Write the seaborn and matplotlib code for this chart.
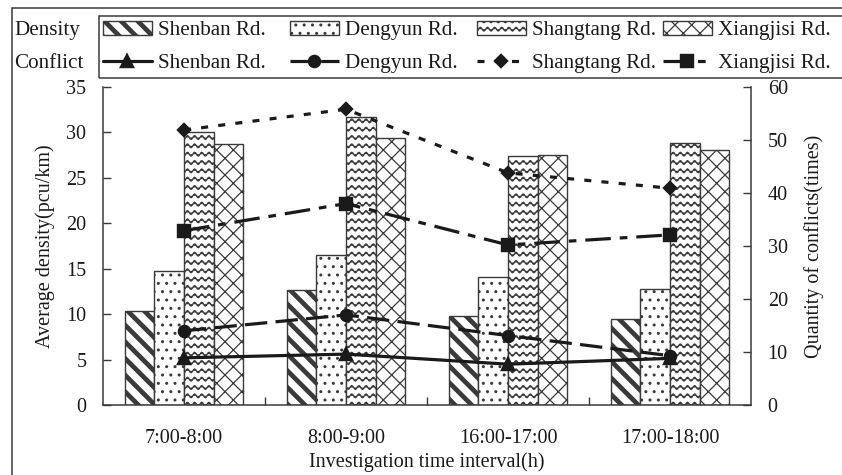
import numpy as np
import pandas as pd
import matplotlib
matplotlib.use("Agg")
import matplotlib.pyplot as plt
import seaborn as sns
from matplotlib import hatch as mhatch
from matplotlib.path import Path
from matplotlib.patches import Rectangle

# ---------------- data ----------------
intervals = ["7:00-8:00", "8:00-9:00", "16:00-17:00", "17:00-18:00"]
roads = ["Shenban Rd.", "Dengyun Rd.", "Shangtang Rd.", "Xiangjisi Rd."]

density_shenban = [10.3, 12.7, 9.8, 9.5]
density_dengyun = [14.7, 16.5, 14.1, 12.8]
density_shangtang = [30.0, 31.7, 27.4, 28.8]
density_xiangjisi = [28.7, 29.4, 27.5, 28.1]

conflict_shenban = [8.9, 9.6, 7.7, 8.8]
conflict_dengyun = [14.0, 17.0, 13.1, 9.3]
conflict_shangtang = [51.9, 55.8, 43.8, 40.9]
conflict_xiangjisi = [32.9, 38.0, 30.2, 32.1]

density_ticks = [0, 5, 10, 15, 20, 25, 30, 35]
conflict_ticks = [0, 10, 20, 30, 40, 50, 60]


# ---------------- custom wavy hatch ----------------
class WaveHatch(mhatch.HatchPatternBase):
    periods = 14
    pts_per_period = 8

    def __init__(self, hatch, density):
        self.num_lines = int(hatch.count("~") * density)
        self.npts = self.periods * self.pts_per_period + 1
        self.num_vertices = self.num_lines * self.npts

    def set_vertices_and_codes(self, vertices, codes):
        n = self.num_lines
        xs = np.linspace(0.0, 1.0, self.npts)
        amp = 0.22 / n
        idx = 0
        for i in range(n):
            y0 = (i + 0.5) / n
            ys = y0 + amp * np.sin(2 * np.pi * self.periods * xs)
            vertices[idx:idx + self.npts, 0] = xs
            vertices[idx:idx + self.npts, 1] = ys
            codes[idx] = Path.MOVETO
            codes[idx + 1:idx + self.npts] = Path.LINETO
            idx += self.npts


mhatch._hatch_types.append(WaveHatch)
mhatch._validate_hatch_pattern = lambda h: None

# ---------------- style ----------------
sns.set_theme(style="white")
plt.rcParams["font.family"] = ["Liberation Serif", "DejaVu Serif"]
plt.rcParams["hatch.linewidth"] = 1.0
FS = 14.5
LFS = 15.2
INK = "#1a1a1a"
EDGE = "#3a3a3a"
W, H = 842, 475

fig = plt.figure(figsize=(8.42, 4.75), dpi=100)
ax = fig.add_axes([103 / W, 1 - 405 / H, (751 - 103) / W, (405 - 87) / H])

df = pd.DataFrame({
    "interval": np.repeat(intervals, 4),
    "road": roads * 4,
    "density": np.ravel(np.column_stack([density_shenban, density_dengyun,
                                         density_shangtang, density_xiangjisi])),
})

sns.barplot(data=df, x="interval", y="density", hue="road", order=intervals,
            hue_order=roads, palette=["white"] * 4, width=0.73, gap=0,
            edgecolor=EDGE, linewidth=1.0, ax=ax, legend=False,
            errorbar=None, saturation=1)

hatches = ["\\\\", "..", "~~", "xx"]
hatch_lw = [3.4, 1.0, 1.0, 0.9]


def set_hlw(p, hl):
    if hasattr(p, "set_hatch_linewidth"):
        p.set_hatch_linewidth(hl)
    else:
        p._hatch_linewidth = hl


for cont, h, hl in zip(ax.containers, hatches, hatch_lw):
    for p in cont.patches:
        p.set_hatch(h)
        p.set_edgecolor(EDGE)
        set_hlw(p, hl)

ax.set_ylim(0, 35)
ax.set_yticks(density_ticks)
ax.set_xlim(-0.5, 3.5)

ax2 = ax.twinx()
conflicts = [conflict_shenban, conflict_dengyun, conflict_shangtang, conflict_xiangjisi]
markers = ["^", "o", "D", "s"]
msizes = [8, 8, 6.5, 8]
styles = ["-", (0, (7, 2.6)), (0, (2.2, 3.2)), (0, (8, 2.8, 2.4, 2.8))]
line_handles = []
for vals, mk, ms, ls in zip(conflicts, markers, msizes, styles):
    n_before = len(ax2.lines)
    sns.pointplot(x=intervals, y=vals, order=intervals, ax=ax2, color=INK,
                  marker=mk, linestyle=ls, markersize=ms, linewidth=2.3,
                  errorbar=None)
    line_handles.append(ax2.lines[n_before])
ax2.set_ylim(0, 60)
ax2.set_yticks(conflict_ticks)
ax.set_xlim(-0.5, 3.5)

# ---------------- axes styling ----------------
for s in ["top", "right"]:
    ax.spines[s].set_visible(False)
for s in ["top", "left", "bottom"]:
    ax2.spines[s].set_visible(False)
for sp in [ax.spines["left"], ax.spines["bottom"], ax2.spines["right"]]:
    sp.set_color(EDGE)
    sp.set_linewidth(1.1)

ax.tick_params(axis="y", direction="in", length=6, width=1, color=EDGE,
               labelsize=FS, pad=12, left=True, labelcolor=INK)
ax2.tick_params(axis="y", direction="in", length=6, width=1, color=EDGE,
                labelsize=FS, pad=12, right=True, labelcolor=INK)
ax.set_xticks(range(len(intervals)))
ax.set_xticklabels(intervals)
ax.tick_params(axis="x", which="major", length=0, labelsize=FS, pad=17,
               labelcolor=INK)
ax.set_xticks([0.5, 1.5, 2.5], minor=True)
ax.tick_params(axis="x", which="minor", direction="in", length=6, width=1,
               color=EDGE, bottom=True)

ax.set_xlabel("Investigation time interval(h)", fontsize=FS, labelpad=3, color=INK)
ax.set_ylabel("Average density(pcu/km)", fontsize=FS, labelpad=8, color=INK)
ax2.set_ylabel("Quantity of conflicts(times)", fontsize=FS, labelpad=12, color=INK)
ax.grid(False)
ax2.grid(False)

# ---------------- legend (one column per road, equal column widths) ----------------
bar_handles = [cont.patches[0] for cont in ax.containers]
col_x = [103, 290, 477, 663]
row_center = 1 - 47 / H
legends = []
for i, (bh, lh, r) in enumerate(zip(bar_handles, line_handles, roads)):
    leg = fig.legend([bh, lh], [r, r], loc="center left",
                     bbox_to_anchor=(col_x[i] / W, row_center),
                     frameon=False, fontsize=LFS, handlelength=2.3,
                     handleheight=0.6, handletextpad=0.3, labelspacing=0.62,
                     borderpad=0, borderaxespad=0, labelcolor=INK)
    for hdl in leg.legend_handles:
        if isinstance(hdl, Rectangle):
            hdl.set_hatch(hatches[i])
            set_hlw(hdl, hatch_lw[i])
            hdl.set_edgecolor(EDGE)
    legends.append(leg)

# legend frame (right edge runs past the figure)
fig.patches.append(Rectangle((99 / W, 1 - 78 / H), 1.2, (78 - 16) / H,
                             transform=fig.transFigure, fill=False,
                             edgecolor=EDGE, linewidth=1.1, clip_on=False))

fig.canvas.draw()
inv = fig.transFigure.inverted()
texts = legends[0].get_texts()
for txt, lab in [(texts[0], "Density"), (texts[1], "Conflict")]:
    bb = txt.get_window_extent()
    yc = inv.transform(((bb.x0 + bb.x1) / 2, (bb.y0 + bb.y1) / 2))[1]
    fig.text(14 / W, yc, lab, ha="left", va="center", fontsize=LFS, color=INK)

# outer frame (left & top edges visible)
fig.patches.append(Rectangle((12 / W, -0.05), 1.2, 1 - 8 / H + 0.05,
                             transform=fig.transFigure, fill=False,
                             edgecolor=EDGE, linewidth=1.1, clip_on=False))

fig.savefig("out.png", dpi=100)
